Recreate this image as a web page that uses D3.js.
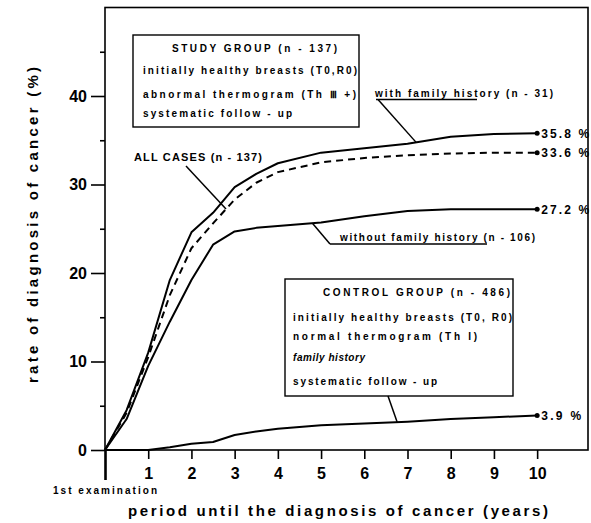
<!DOCTYPE html>
<html>
<head>
<meta charset="utf-8">
<script src="https://cdn.jsdelivr.net/npm/d3@7"></script>
<style>
body { margin: 0; background: #fff; }
text { font-family: "Liberation Sans", Arial, sans-serif; font-weight: bold; fill: #000; }
</style>
</head>
<body>
<div id="chart"></div>
<script>
// data
var years          = [0, 0.5, 1, 1.5, 2, 2.5, 3, 3.5, 4, 5, 6, 7, 8, 9, 10];
var with_family    = [0, 4.5, 11, 19.2, 24.6, 26.8, 29.7, 31.2, 32.4, 33.6, 34.1, 34.6, 35.4, 35.7, 35.8];
var all_cases      = [0, 4.2, 10.5, 17.5, 22.8, 25.6, 28.3, 30.2, 31.4, 32.5, 33, 33.3, 33.5, 33.6, 33.6];
var without_family = [0, 3.5, 9.5, 14.5, 19.2, 23.2, 24.7, 25.1, 25.3, 25.7, 26.4, 27, 27.2, 27.2, 27.2];
var control        = [0, 0, 0, 0.3, 0.7, 0.9, 1.7, 2.1, 2.4, 2.8, 3.0, 3.2, 3.5, 3.7, 3.9];
var end_labels     = ["35.8 %", "33.6 %", "27.2 %", "3.9 %"];

var y_ticks = [0, 10, 20, 30, 40];
var y_minor = [5, 15, 25, 35, 45];
var x_ticks = [0, 1, 2, 3, 4, 5, 6, 7, 8, 9, 10];

var study_lines   = ["STUDY  GROUP (n - 137)", "initially healthy breasts (T0,R0)", "abnormal thermogram (Th \u2162 +)", "systematic  follow - up"];
var control_lines = ["CONTROL  GROUP (n - 486)", "initially healthy breasts (T0, R0)", "normal thermogram (Th I)", "family history", "systematic  follow - up"];

var chart_width = 591;
var chart_height = 523;

var x = d3.scaleLinear().domain([0, 11.2]).range([105, 589]);
var y = d3.scaleLinear().domain([0, 50]).range([450, 7.5]);

var svg = d3.select('#chart')
            .append('svg')
            .attr('width', chart_width)
            .attr('height', chart_height);

// frame
svg.append('rect')
   .attr('x', x(0)).attr('y', y(50))
   .attr('width', x(11.2) - x(0) - 1).attr('height', y(0) - y(50))
   .attr('fill', 'none').attr('stroke', '#000').attr('stroke-width', 1.6);

// y axis
var yAxis = svg.append('g')
   .attr('transform', 'translate(' + x(0) + ',0)')
   .call(d3.axisLeft(y).tickValues(y_ticks).tickSize(14).tickPadding(4));
yAxis.select('.domain').remove();
yAxis.selectAll('line').attr('stroke-width', 1.6);
yAxis.selectAll('text').style('font-size', '16px').attr('font-family', null);

var yMinor = svg.append('g')
   .attr('transform', 'translate(' + x(0) + ',0)')
   .call(d3.axisLeft(y).tickValues(y_minor).tickSize(5).tickFormat(''));
yMinor.select('.domain').remove();
yMinor.selectAll('line').attr('stroke-width', 1.6);

// x axis
var xAxis = svg.append('g')
   .attr('transform', 'translate(0,' + y(0) + ')')
   .call(d3.axisBottom(x).tickValues(x_ticks).tickSize(9).tickPadding(9)
           .tickFormat(function(d){ return d === 0 ? '' : d; }));
xAxis.select('.domain').remove();
xAxis.selectAll('line').attr('stroke-width', 1.6);
xAxis.selectAll('.tick').filter(function(d){ return d === 0; })
     .select('line').attr('y2', 30).attr('stroke-width', 2.6);
xAxis.selectAll('text').style('font-size', '16px').attr('font-family', null);

svg.append('text')
   .attr('x', x(0)).attr('y', 494)
   .attr('text-anchor', 'middle')
   .attr('textLength', 104).attr('lengthAdjust', 'spacing')
   .style('font-size', '10px')
   .text('1st examination');

// axis titles
svg.append('text')
   .attr('x', 128).attr('y', 516)
   .attr('textLength', 420).attr('lengthAdjust', 'spacing')
   .style('font-size', '15px')
   .text('period until the diagnosis of  cancer  (years)');

svg.append('text')
   .attr('transform', 'translate(38,383) rotate(-90)')
   .attr('textLength', 316).attr('lengthAdjust', 'spacing')
   .style('font-size', '15px')
   .text('rate of diagnosis of  cancer  (%)');

// curves
var line = d3.line()
   .x(function(d){ return x(d[0]); })
   .y(function(d){ return y(d[1]); })
   .curve(d3.curveLinear);

var series = [with_family, all_cases, without_family, control];
series.forEach(function(s, i){
    var pts = years.map(function(yr, j){ return [yr, s[j]]; });
    svg.append('path')
       .attr('d', line(pts))
       .attr('fill', 'none')
       .attr('stroke', '#000')
       .attr('stroke-width', 2)
       .attr('stroke-linejoin', 'round')
       .attr('stroke-dasharray', i === 1 ? '7,5' : null);
    var last = pts[pts.length - 1];
    svg.append('circle')
       .attr('cx', x(last[0])).attr('cy', y(last[1])).attr('r', 2.5)
       .attr('fill', '#000');
    svg.append('text')
       .attr('x', x(last[0]) + 4).attr('y', y(last[1]) + 4.5)
       .style('font-size', '12px')
       .attr('textLength', i === 3 ? 40 : 48).attr('lengthAdjust', 'spacing')
       .text(end_labels[i]);
});

// value on a series at a given year (linear between read points)
function at(s, yr){
    return d3.scaleLinear().domain(years).range(s)(yr);
}

// study group box
svg.append('rect')
   .attr('x', 133).attr('y', 35).attr('width', 226).attr('height', 92)
   .attr('fill', '#fff').attr('stroke', '#000').attr('stroke-width', 1.4);
var study_pos = [[172, 52, 165], [143, 74, 214], [143, 98, 213], [143, 117, 149]];
study_lines.forEach(function(t, i){
    svg.append('text')
       .attr('x', study_pos[i][0]).attr('y', study_pos[i][1])
       .attr('textLength', study_pos[i][2]).attr('lengthAdjust', 'spacing')
       .style('font-size', '10px')
       .text(t);
});

// control group box
svg.append('rect')
   .attr('x', 285).attr('y', 279).attr('width', 228).attr('height', 117)
   .attr('fill', '#fff').attr('stroke', '#000').attr('stroke-width', 1.4);
var control_pos = [[323, 296, 187], [293, 321, 219], [293, 340, 184], [293, 361, 72], [293, 385, 144]];
control_lines.forEach(function(t, i){
    svg.append('text')
       .attr('x', control_pos[i][0]).attr('y', control_pos[i][1])
       .attr('textLength', control_pos[i][2]).attr('lengthAdjust', 'spacing')
       .style('font-size', '10px')
       .style('font-style', i === 3 ? 'italic' : null)
       .text(t);
});

// annotations with leader lines
function leader(x1, y1, x2, y2){
    svg.append('line')
       .attr('x1', x1).attr('y1', y1).attr('x2', x2).attr('y2', y2)
       .attr('stroke', '#000').attr('stroke-width', 1.5);
}

svg.append('text')
   .attr('x', 375).attr('y', 97)
   .attr('textLength', 178).attr('lengthAdjust', 'spacing')
   .style('font-size', '10px')
   .text('with family history (n - 31)');
leader(376, 99.5, 477, 99.5);
leader(378, 99.5, x(7.2), y(at(with_family, 7.2)));

svg.append('text')
   .attr('x', 134).attr('y', 161)
   .attr('textLength', 128).attr('lengthAdjust', 'spacing')
   .style('font-size', '11px')
   .text('ALL  CASES (n - 137)');
leader(186, 166, x(2.8), y(at(all_cases, 2.8)));

svg.append('text')
   .attr('x', 340).attr('y', 241)
   .attr('textLength', 195).attr('lengthAdjust', 'spacing')
   .style('font-size', '10px')
   .text('without family history (n - 106)');
leader(330, 244, 487, 244);
leader(330, 244, x(4.8), y(at(without_family, 4.8)));

leader(388, 396, x(6.76), y(at(control, 6.76)));
</script>
</body>
</html>
